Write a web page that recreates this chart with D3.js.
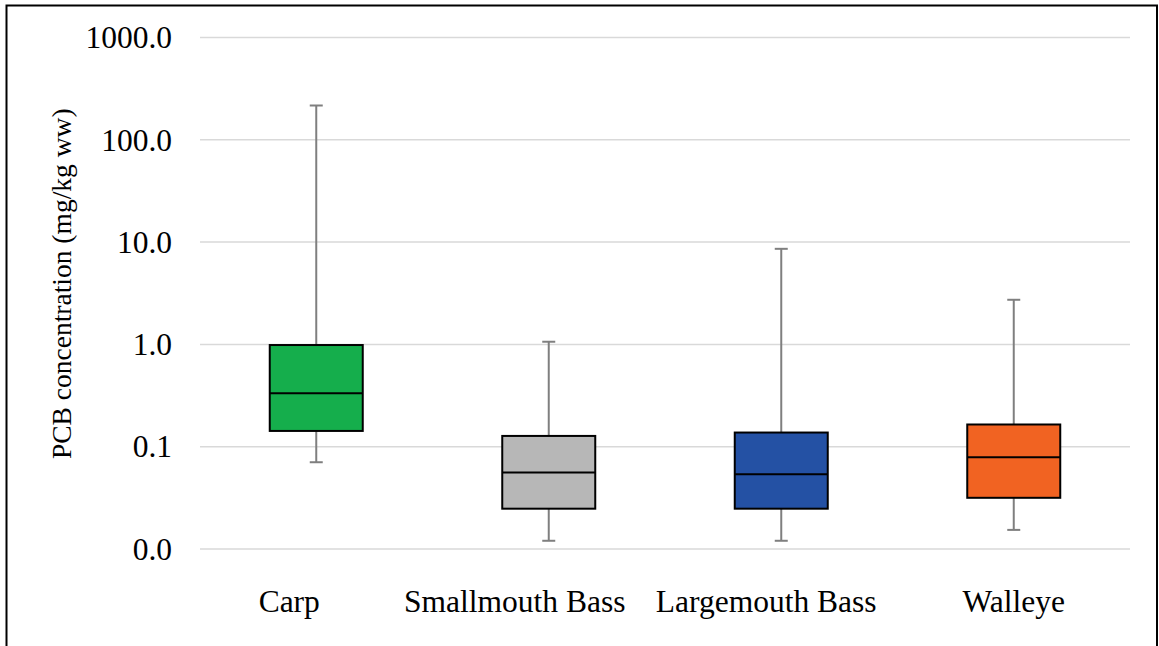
<!DOCTYPE html>
<html>
<head>
<meta charset="utf-8">
<script src="https://cdn.jsdelivr.net/npm/d3@7"></script>
<style>
  body { margin: 0; background: #fff; }
  svg { display: block; }
</style>
</head>
<body>
<div id="chart"></div>
<script>
// fish species and their box plot statistics (mg/kg ww)
var species = ["Carp", "Smallmouth Bass", "Largemouth Bass", "Walleye"];
var whiskerLow = [0.0697, 0.0119, 0.0119, 0.0152];
var q1 = [0.141, 0.0245, 0.0245, 0.0313];
var median = [0.33, 0.0552, 0.0532, 0.078];
var q3 = [0.975, 0.126, 0.136, 0.163];
var whiskerHigh = [214, 1.05, 8.5, 2.7];
var yTicks = [0.01, 0.1, 1, 10, 100, 1000];

var colors = ["#15AE4C", "#B7B7B7", "#2451A4", "#F16322"];
// label nudges to follow the original's uneven category labels
var labelShift = [-27, -34, -15, 0];

var w = 1159, h = 646;
var margin = {left: 200, right: 29, top: 37, bottom: 97.5};

var svg = d3.select("#chart").append("svg")
  .attr("width", w)
  .attr("height", h);

var x = d3.scaleBand()
  .domain(species)
  .range([margin.left, w - margin.right])
  .padding(0);

var y = d3.scaleLog()
  .domain([0.01, 1000])
  .range([h - margin.bottom, margin.top]);

var fontFamily = "'Liberation Serif', 'Times New Roman', serif";

// gridlines + tick labels
var yAxis = d3.axisLeft(y)
  .tickValues(yTicks)
  .tickFormat(d3.format(".1f"))
  .tickSize(-(w - margin.left - margin.right))
  .tickPadding(28);

var gy = svg.append("g")
  .attr("transform", "translate(" + margin.left + ",0)")
  .call(yAxis);
gy.select(".domain").remove();
gy.selectAll(".tick line")
  .attr("stroke", "#d9d9d9")
  .attr("stroke-width", 1.5);
gy.selectAll(".tick text")
  .attr("dy", "0.34em")
  .style("font-family", fontFamily)
  .style("font-size", "31.5px")
  .attr("fill", "#000");

var boxW = x.bandwidth() * 0.4;
var capW = 13;

var idx = d3.range(species.length);
var g = svg.selectAll("g.box")
  .data(idx)
  .enter()
  .append("g")
  .attr("class", "box");

function cx(i) { return x(species[i]) + x.bandwidth() / 2; }

// whiskers
g.append("line")
  .attr("x1", cx).attr("x2", cx)
  .attr("y1", function(i) { return y(whiskerHigh[i]); })
  .attr("y2", function(i) { return y(q3[i]); })
  .attr("stroke", "#7f7f7f").attr("stroke-width", 2);
g.append("line")
  .attr("x1", cx).attr("x2", cx)
  .attr("y1", function(i) { return y(q1[i]); })
  .attr("y2", function(i) { return y(whiskerLow[i]); })
  .attr("stroke", "#7f7f7f").attr("stroke-width", 2);
// caps
g.append("line")
  .attr("x1", function(i) { return cx(i) - capW / 2; })
  .attr("x2", function(i) { return cx(i) + capW / 2; })
  .attr("y1", function(i) { return y(whiskerHigh[i]); })
  .attr("y2", function(i) { return y(whiskerHigh[i]); })
  .attr("stroke", "#7f7f7f").attr("stroke-width", 2);
g.append("line")
  .attr("x1", function(i) { return cx(i) - capW / 2; })
  .attr("x2", function(i) { return cx(i) + capW / 2; })
  .attr("y1", function(i) { return y(whiskerLow[i]); })
  .attr("y2", function(i) { return y(whiskerLow[i]); })
  .attr("stroke", "#7f7f7f").attr("stroke-width", 2);

// boxes
g.append("rect")
  .attr("x", function(i) { return cx(i) - boxW / 2; })
  .attr("y", function(i) { return y(q3[i]); })
  .attr("width", boxW)
  .attr("height", function(i) { return y(q1[i]) - y(q3[i]); })
  .attr("fill", function(i) { return colors[i]; })
  .attr("stroke", "#000")
  .attr("stroke-width", 2);

// medians
g.append("line")
  .attr("x1", function(i) { return cx(i) - boxW / 2; })
  .attr("x2", function(i) { return cx(i) + boxW / 2; })
  .attr("y1", function(i) { return y(median[i]); })
  .attr("y2", function(i) { return y(median[i]); })
  .attr("stroke", "#000").attr("stroke-width", 2);

// category labels
svg.selectAll("text.cat")
  .data(idx)
  .enter()
  .append("text")
  .attr("class", "cat")
  .attr("x", function(i) { return cx(i) + labelShift[i]; })
  .attr("y", 612)
  .attr("text-anchor", "middle")
  .style("font-family", fontFamily)
  .style("font-size", "31.5px")
  .text(function(i) { return species[i]; });

// y title
svg.append("text")
  .attr("transform", "translate(71," + ((margin.top + h - margin.bottom) / 2 - 9) + ") rotate(-90)")
  .attr("text-anchor", "middle")
  .style("font-family", fontFamily)
  .style("font-size", "27.5px")
  .text("PCB concentration (mg/kg ww)");

// outer frame (bottom edge is cut off in the original)
svg.append("path")
  .attr("d", "M6.5," + (h + 5) + "V5.5H1157V" + (h + 5))
  .attr("fill", "none")
  .attr("stroke", "#000")
  .attr("stroke-width", 2);
</script>
</body>
</html>
